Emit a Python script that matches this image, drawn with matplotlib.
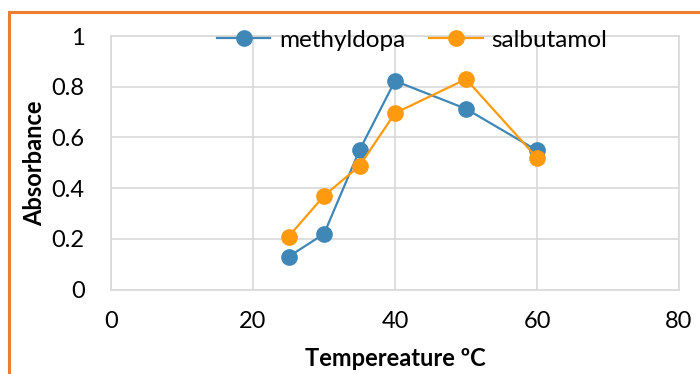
import matplotlib.pyplot as plt
from matplotlib.patches import Rectangle

temperature = [25, 30, 35, 40, 50, 60]
methyldopa = [0.13, 0.22, 0.55, 0.823, 0.713, 0.549]
salbutamol = [0.209, 0.37, 0.488, 0.696, 0.83, 0.52]

x_ticks = [0, 20, 40, 60, 80]
y_ticks = [0, 0.2, 0.4, 0.6, 0.8, 1]
y_tick_labels = ['0', '0.2', '0.4', '0.6', '0.8', '1']

plt.rcParams['font.family'] = ['Lato', 'DejaVu Sans']

fig = plt.figure(figsize=(7, 3.74), dpi=100)
ax = fig.add_axes([0.1586, 0.2254, 0.8114, 0.6783])

blue = '#3f87b6'
orange = '#ff9a0e'
ax.plot(temperature, methyldopa, color=blue, lw=1.6, marker='o', ms=11,
        label='methyldopa', zorder=3)
ax.plot(temperature, salbutamol, color=orange, lw=1.6, marker='o', ms=11,
        label='salbutamol', zorder=3)

ax.set_xlim(0, 80)
ax.set_ylim(0, 1)
ax.set_xticks(x_ticks)
ax.set_yticks(y_ticks)
ax.set_yticklabels(y_tick_labels)
ax.grid(True, color='#d9d9d9', lw=1.2)
ax.set_axisbelow(True)
for s in ax.spines.values():
    s.set_color('#d9d9d9')
    s.set_linewidth(1.2)
ax.tick_params(length=0, labelsize=17, pad=15, colors='black')
ax.tick_params(axis='y', pad=19)

ax.set_xlabel('Tempereature ºC', fontsize=17, fontweight='bold', labelpad=11)
ax.set_ylabel('Absorbance', fontsize=17, fontweight='bold', labelpad=4)

ax.legend(loc='upper center', bbox_to_anchor=(0.53, 1.11), ncol=2, frameon=False,
          fontsize=17.5, handlelength=2.2, columnspacing=1.0, handletextpad=0.35)

# orange frame (top and left edges visible)
fig.patches.append(Rectangle((9 / 700, -0.1), 1.2, 1 - 12 / 374 + 0.1,
                             transform=fig.transFigure, fill=False,
                             edgecolor='#ed7d31', lw=2.2, zorder=0))

fig.savefig('out.png', dpi=100)
